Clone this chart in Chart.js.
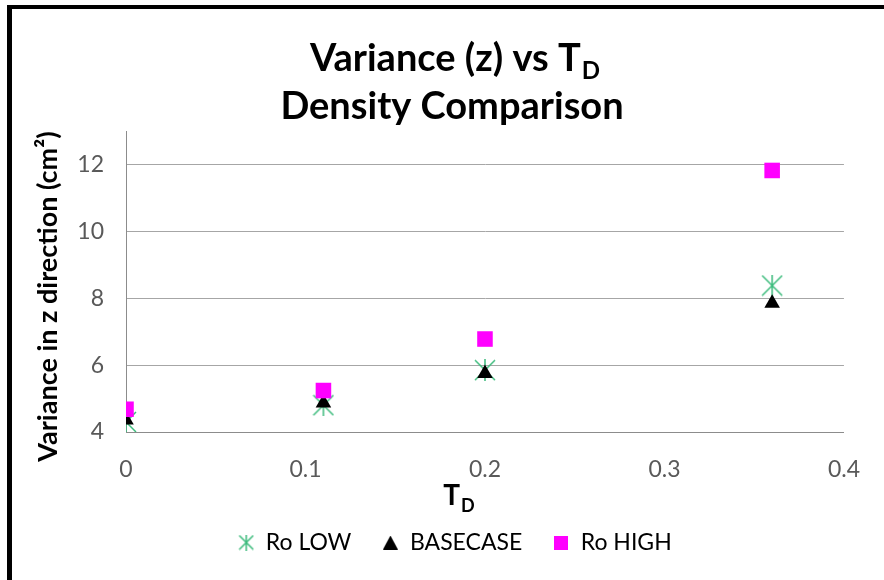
<!DOCTYPE html>
<html>
<head>
<meta charset="utf-8">
<script src="https://cdn.jsdelivr.net/npm/chart.js@4/dist/chart.umd.min.js"></script>
<style>
  html, body { margin: 0; padding: 0; background: #ffffff; }
  #wrap { width: 884px; height: 580px; }
</style>
</head>
<body>
<div id="wrap"><canvas id="chart" width="884" height="580"></canvas></div>
<script>
// Variance of the z position against T_D for three density cases
const seriesNames = ['Ro LOW', 'BASECASE', 'Ro HIGH'];
const tdValues = [0, 0.11, 0.2, 0.36];
const roLowValues = [4.3, 4.8, 5.85, 8.38];
const baseCaseValues = [4.36, 4.87, 5.75, 7.85];
const roHighValues = [4.68, 5.24, 6.78, 11.82];
const xTickValues = [0, 0.1, 0.2, 0.3, 0.4];
const yTickValues = [4, 6, 8, 10, 12];
const titleLines = [['Variance (z) vs T', 'D'], ['Density Comparison', '']];
const xAxisTitle = ['T', 'D'];
const yAxisTitle = 'Variance in z direction (cm\u00B2)';

const FONT = 'Lato, "Open Sans", "DejaVu Sans", sans-serif';
const GREEN = '#3cbb7c';
const PINK = '#ff00ff';
const TICK_COLOR = '#595959';

const PAD_L = 62, PAD_R = 36, PAD_T = 131;
const LEGEND_H = 80;
const X_AXIS_H = 68;

function makeMarker(w, h, paint) {
  const c = document.createElement('canvas');
  c.width = w; c.height = h;
  paint(c.getContext('2d'), w, h);
  return c;
}
function paintStar(ctx, w, h) {
  ctx.strokeStyle = GREEN;
  ctx.lineWidth = 1.5;
  ctx.beginPath();
  ctx.moveTo(w / 2, 0); ctx.lineTo(w / 2, h);
  ctx.moveTo(1, 1); ctx.lineTo(w - 1, h - 1);
  ctx.moveTo(w - 1, 1); ctx.lineTo(1, h - 1);
  ctx.stroke();
}
const starMarker = makeMarker(22, 22, paintStar);
const legendMarkers = [
  makeMarker(16, 16, paintStar),
  makeMarker(15, 14, (ctx, w, h) => {
    ctx.fillStyle = '#000000';
    ctx.beginPath(); ctx.moveTo(w / 2, 0); ctx.lineTo(w, h); ctx.lineTo(0, h); ctx.closePath(); ctx.fill();
  }),
  makeMarker(14, 14, (ctx, w, h) => { ctx.fillStyle = PINK; ctx.fillRect(0, 0, w, h); })
];

const toPoints = ys => tdValues.map((x, i) => ({ x, y: ys[i] }));

// White page with the black frame on the top and left edges
const framePlugin = {
  id: 'frame',
  beforeDraw(chart) {
    const ctx = chart.ctx;
    ctx.save();
    ctx.fillStyle = '#ffffff';
    ctx.fillRect(0, 0, chart.width, chart.height);
    ctx.fillStyle = '#000000';
    ctx.fillRect(7, 5, chart.width - 7, 4);
    ctx.fillRect(7, 5, 5, chart.height - 5);
    ctx.restore();
  }
};

// Text pieces with subscripts: title lines and axis titles
function drawSubText(ctx, main, sub, cx, baseline, size, subSize, subDrop) {
  ctx.font = 'bold ' + size + 'px ' + FONT;
  const wMain = ctx.measureText(main).width;
  ctx.font = 'bold ' + subSize + 'px ' + FONT;
  const wSub = sub ? ctx.measureText(sub).width + 1 : 0;
  const x0 = cx - (wMain + wSub) / 2;
  ctx.textAlign = 'left';
  ctx.textBaseline = 'alphabetic';
  ctx.font = 'bold ' + size + 'px ' + FONT;
  ctx.fillText(main, x0, baseline);
  if (sub) {
    ctx.font = 'bold ' + subSize + 'px ' + FONT;
    ctx.fillText(sub, x0 + wMain + 1, baseline + subDrop);
  }
}
const textPlugin = {
  id: 'texts',
  afterDraw(chart) {
    const ctx = chart.ctx;
    const area = chart.chartArea;
    ctx.save();
    ctx.fillStyle = '#000000';
    drawSubText(ctx, titleLines[0][0], titleLines[0][1], 455, 71, 38, 24, 8);
    drawSubText(ctx, titleLines[1][0], titleLines[1][1], 452, 119, 38, 24, 8);
    drawSubText(ctx, xAxisTitle[0], xAxisTitle[1], 459, 505, 28, 18, 7);
    ctx.translate(57, (area.top + area.bottom) / 2 + 15);
    ctx.rotate(-Math.PI / 2);
    ctx.font = 'bold 27px ' + FONT;
    ctx.textAlign = 'center';
    ctx.textBaseline = 'alphabetic';
    ctx.fillText(yAxisTitle, 0, 0);
    ctx.restore();
  }
};

// Fixed legend band height so its row sits just above the bottom edge
const legendBandPlugin = {
  id: 'legendBand',
  afterInit(chart) {
    const legend = chart.legend;
    if (!legend) return;
    const baseFit = legend.fit;
    legend.fit = function () { baseFit.call(this); this.height = LEGEND_H; };
  }
};

new Chart(document.getElementById('chart'), {
  type: 'scatter',
  data: {
    datasets: [
      { label: seriesNames[0], data: toPoints(roLowValues), pointStyle: starMarker, pointRadius: 11,
        borderColor: GREEN, backgroundColor: GREEN, order: 2 },
      { label: seriesNames[1], data: toPoints(baseCaseValues), pointStyle: 'triangle', pointRadius: 9,
        borderColor: '#000000', backgroundColor: '#000000', borderWidth: 0, order: 1 },
      { label: seriesNames[2], data: toPoints(roHighValues), pointStyle: 'rect', pointRadius: 11,
        borderColor: PINK, backgroundColor: PINK, borderWidth: 0, order: 0 }
    ]
  },
  options: {
    responsive: false,
    animation: false,
    layout: { padding: { left: PAD_L, right: PAD_R, top: PAD_T, bottom: 0 } },
    plugins: {
      title: { display: false },
      tooltip: { enabled: false },
      legend: {
        position: 'bottom',
        labels: {
          usePointStyle: true,
          boxWidth: 16,
          boxHeight: 16,
          padding: 31,
          color: '#000000',
          font: { family: FONT, size: 23 },
          sort: (a, b) => a.datasetIndex - b.datasetIndex,
          generateLabels(chart) {
            const items = Chart.defaults.plugins.legend.labels.generateLabels(chart);
            items.forEach(it => { it.pointStyle = legendMarkers[it.datasetIndex]; });
            return items;
          }
        }
      }
    },
    scales: {
      x: {
        type: 'linear',
        min: xTickValues[0],
        max: xTickValues[xTickValues.length - 1],
        afterBuildTicks: s => { s.ticks = xTickValues.map(v => ({ value: v })); },
        afterFit: s => { s.height = X_AXIS_H; },
        grid: { display: false, drawTicks: false },
        border: { display: true, color: '#8c8c8c', width: 1 },
        ticks: { padding: 24, color: TICK_COLOR, font: { family: FONT, size: 23 }, callback: v => String(v) }
      },
      y: {
        type: 'linear',
        min: 4,
        max: 13,
        afterBuildTicks: s => { s.ticks = yTickValues.map(v => ({ value: v })); },
        afterFit: s => { s.width = 126 - PAD_L; },
        grid: { color: '#a6a6a6', lineWidth: 1, drawTicks: false },
        border: { display: true, color: '#8c8c8c', width: 1 },
        ticks: { padding: 22, color: TICK_COLOR, font: { family: FONT, size: 23 }, callback: v => String(v) }
      }
    }
  },
  plugins: [framePlugin, textPlugin, legendBandPlugin]
});
</script>
</body>
</html>
